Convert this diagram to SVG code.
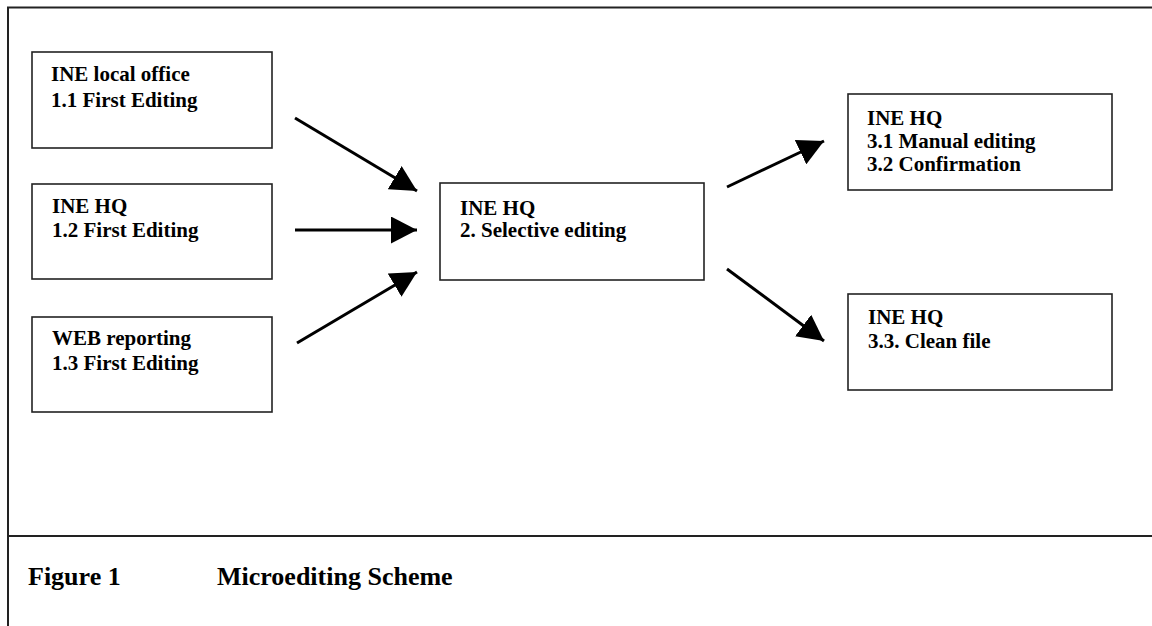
<svg xmlns="http://www.w3.org/2000/svg" width="1152" height="626" viewBox="0 0 1152 626">
  <defs>
    <style>
      .box { fill: #ffffff; stroke: #222222; stroke-width: 1.6; }
      .frame { fill: none; stroke: #222222; stroke-width: 2; }
      .t { font-family: "Liberation Serif", "Times New Roman", serif; font-weight: bold; font-size: 21px; fill: #000000; }
      .cap { font-family: "Liberation Serif", "Times New Roman", serif; font-weight: bold; font-size: 26px; fill: #000000; }
      .arrow { stroke: #000000; stroke-width: 3; fill: none; marker-end: url(#ah); }
    </style>
    <marker id="ah" markerUnits="userSpaceOnUse" markerWidth="26" markerHeight="27" refX="26" refY="13.5" orient="auto">
      <path d="M0,0 L26,13.5 L0,27 Z" fill="#000000"/>
    </marker>
  </defs>
  <rect width="1152" height="626" fill="#ffffff"/>
  <g id="frame">
    <path class="frame" d="M8,626 L8,7.5 L1152,7.5"/>
    <line class="frame" x1="8" y1="536" x2="1152" y2="536"/>
  </g>
  <g id="n11">
    <rect class="box" x="32" y="52" width="240" height="96"/>
    <text class="t" x="51" y="81">INE local office</text>
    <text class="t" x="51" y="107">1.1 First Editing</text>
  </g>
  <g id="n12">
    <rect class="box" x="32" y="184" width="240" height="95"/>
    <text class="t" x="52" y="213">INE HQ</text>
    <text class="t" x="52" y="237">1.2 First Editing</text>
  </g>
  <g id="n13">
    <rect class="box" x="32" y="317" width="240" height="95"/>
    <text class="t" x="52" y="345">WEB reporting</text>
    <text class="t" x="52" y="370">1.3 First Editing</text>
  </g>
  <g id="n2">
    <rect class="box" x="440" y="183" width="264" height="97"/>
    <text class="t" x="460" y="215">INE HQ</text>
    <text class="t" x="460" y="237">2. Selective editing</text>
  </g>
  <g id="n31">
    <rect class="box" x="848" y="94" width="264" height="96"/>
    <text class="t" x="867" y="125">INE HQ</text>
    <text class="t" x="867" y="148">3.1 Manual editing</text>
    <text class="t" x="867" y="171">3.2 Confirmation</text>
  </g>
  <g id="n33">
    <rect class="box" x="848" y="294" width="264" height="96"/>
    <text class="t" x="868" y="324">INE HQ</text>
    <text class="t" x="868" y="348">3.3. Clean file</text>
  </g>
  <g id="connectors">
    <line class="arrow" x1="295" y1="118" x2="417" y2="191"/>
    <line class="arrow" x1="295" y1="230" x2="417" y2="230"/>
    <line class="arrow" x1="297" y1="343" x2="417" y2="272"/>
    <line class="arrow" x1="727" y1="187" x2="824" y2="141"/>
    <line class="arrow" x1="727" y1="269" x2="824" y2="341"/>
  </g>
  <g id="caption">
    <text class="cap" x="28" y="585">Figure 1</text>
    <text class="cap" x="217" y="585">Microediting Scheme</text>
  </g>
</svg>
